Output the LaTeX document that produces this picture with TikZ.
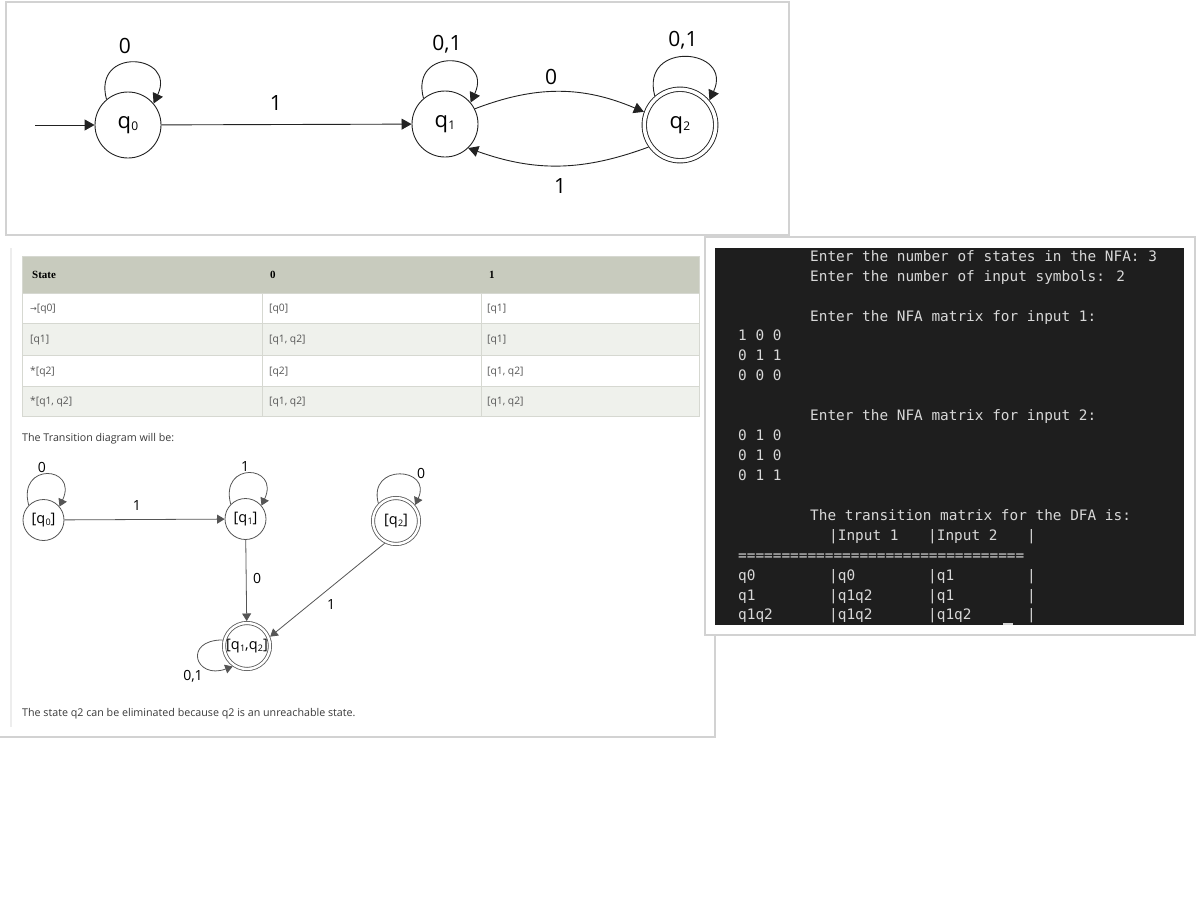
\documentclass[tikz,border=0pt]{standalone}
\usepackage{fontspec}
\setmainfont{Open Sans}
\newfontfamily\termfont{DejaVu Sans Mono}
\newfontfamily\hdrfont{Liberation Serif}
\newfontfamily\symfont{DejaVu Sans}
\usetikzlibrary{arrows.meta}
\definecolor{edgebig}{HTML}{222222}
\definecolor{edgesm}{HTML}{555555}
\definecolor{panelline}{HTML}{D2D2D2}
\definecolor{hdrgray}{HTML}{C8CBBE}
\definecolor{rowgray}{HTML}{EFF1EC}
\definecolor{cellline}{HTML}{D6D8D1}
\definecolor{celltext}{HTML}{555555}
\definecolor{bodytext}{HTML}{3A3A3A}
\definecolor{termbg}{HTML}{1E1E1E}
\definecolor{termtext}{HTML}{D8D8D8}
\newcommand{\qs}[2]{q\kern0.3bp\raisebox{-0.12em}{\fontsize{#1}{#1}\selectfont #2}}
\begin{document}
\begin{tikzpicture}[x=1bp,y=1bp,
  bigstate/.style={circle, draw=edgebig, line width=0.9bp, minimum size=66bp, inner sep=0pt, font=\fontsize{22bp}{22bp}\selectfont},
  bigacc/.style={bigstate, double, double distance=3.5bp, minimum size=71.5bp, outer sep=2.7bp},
  bigedge/.style={draw=edgebig, line width=0.9bp, -{Triangle[length=10bp,width=11bp]}},
  biglabel/.style={font=\fontsize{21bp}{21bp}\selectfont, inner sep=0pt},
  smallstate/.style={circle, draw=edgesm, line width=0.8bp, minimum size=41bp, inner sep=0pt, font=\fontsize{14.5bp}{14.5bp}\selectfont},
  smallacc/.style={smallstate, double, double distance=2.4bp, minimum size=46bp, outer sep=2bp},
  smedge/.style={draw=edgesm, line width=0.8bp, -{Triangle[length=7.5bp,width=9bp]}},
  smlabel/.style={font=\fontsize{14bp}{14bp}\selectfont, inner sep=0pt},
  panel/.style={draw=panelline, line width=1.5bp},
  cell/.style={anchor=base west, inner sep=0pt, text=celltext, font=\fontsize{10.3bp}{10.3bp}\selectfont},
  bodyline/.style={anchor=base west, inner sep=0pt, text=bodytext, font=\fontsize{10.7bp}{10.7bp}\selectfont},
  term/.style={anchor=base west, inner sep=0pt, text=termtext, font=\termfont\fontsize{14.4bp}{14.4bp}\selectfont}
]
\useasboundingbox[fill=white] (0,0) rectangle (1200,-900);

% ---------- middle panel ----------
\draw[panel] (715,-237) -- (715,-737) -- (0,-737);
\draw[draw=black!7, line width=1.5bp] (11,-248) -- (11,-727);

% ---------- top panel ----------
\draw[panel, fill=white] (6,-2) rectangle (789,-235);

\node[bigstate] (q0) at (128,-125) {\qs{12bp}{0}};
\node[bigstate] (q1) at (445,-124) {\qs{12bp}{1}};
\node[bigacc] (q2) at (680,-125) {\qs{12bp}{2}};
\coordinate (st) at (35,-125);
\draw[bigedge] (st) -- (q0);
\draw[bigedge] (q0) -- (q1);
\node[biglabel] (lq0q1) at (276,-103) {1};
\draw[bigedge] (q0.130) .. controls +(105:55) and +(65:55) .. (q0.40);
\node[biglabel] (lq0) at (125,-46) {0};
\draw[bigedge] (q1.130) .. controls +(105:55) and +(65:55) .. (q1.40);
\node[biglabel] (lq1) at (447,-44) {0,1};
\draw[bigedge] (q2.131) .. controls +(105:58) and +(65:58) .. (q2.40);
\node[biglabel] (lq2) at (683,-40) {0,1};
\draw[bigedge] (q1.27) to[bend left=22] (q2.160);
\node[biglabel] (lq1q2) at (551,-77) {0};
\draw[bigedge] (q2.215) to[bend left=20] (q1.-46);
\node[biglabel] (lq2q1) at (560,-186) {1};

% ---------- table ----------
\draw[cellline, fill=hdrgray] (22,-256) rectangle (699,-293);
\draw[cellline, fill=white] (22,-293) rectangle (699,-323);
\draw[cellline, fill=rowgray] (22,-323) rectangle (699,-355);
\draw[cellline, fill=white] (22,-355) rectangle (699,-386);
\draw[cellline, fill=rowgray] (22,-386) rectangle (699,-416);
\draw[cellline] (262,-293) -- (262,-416);
\draw[cellline] (481,-293) -- (481,-416);

\node[anchor=base west, inner sep=0pt, font=\hdrfont\bfseries\fontsize{11bp}{11bp}\selectfont] (h1) at (32,-278) {State};
\node[anchor=base west, inner sep=0pt, font=\hdrfont\bfseries\fontsize{11bp}{11bp}\selectfont] (h2) at (270,-278) {0};
\node[anchor=base west, inner sep=0pt, font=\hdrfont\bfseries\fontsize{11bp}{11bp}\selectfont] (h3) at (489,-278) {1};

\node[cell] (c11) at (30,-311.6) {{\symfont\fontsize{8bp}{8bp}\selectfont →}[q0]};
\node[cell] (c12) at (269,-311.6) {[q0]};
\node[cell] (c13) at (487,-311.6) {[q1]};
\node[cell] (c21) at (30,-342.6) {[q1]};
\node[cell] (c22) at (269,-342.6) {[q1, q2]};
\node[cell] (c23) at (487,-342.6) {[q1]};
\node[cell] (c31) at (30,-374) {*[q2]};
\node[cell] (c32) at (269,-374) {[q2]};
\node[cell] (c33) at (487,-374) {[q1, q2]};
\node[cell] (c41) at (30,-404.6) {*[q1, q2]};
\node[cell] (c42) at (269,-404.6) {[q1, q2]};
\node[cell] (c43) at (487,-404.6) {[q1, q2]};

\node[bodyline] (txt1) at (22,-441.5) {The Transition diagram will be:};
\node[bodyline] (txt2) at (22,-716.5) {The state q2 can be eliminated because q2 is an unreachable state.};

% ---------- DFA diagram ----------
\node[smallstate] (d0) at (43.5,-520) {[\qs{9bp}{0}]};
\node[smallstate] (d1) at (245.5,-519) {[\qs{9bp}{1}]};
\node[smallacc] (d2) at (396,-521) {[\qs{9bp}{2}]};
\node[smallacc] (d12) at (247,-646) {[\qs{9bp}{1},\qs{9bp}{2}]};

\draw[smedge] (d0) -- (d1);
\node[smlabel] (ld0d1) at (137,-505) {1};
\draw[smedge] (d1) -- (d12);
\node[smlabel] (ld1d12) at (257,-578) {0};
\draw[smedge] (d2.243) -- (d12.22);
\node[smlabel] (ld2d12) at (331,-604) {1};
\draw[smedge] (d0.135) .. controls +(105:45) and +(65:45) .. (d0.40);
\node[smlabel] (ld0) at (42,-467) {0};
\draw[smedge] (d1.135) .. controls +(105:45) and +(65:45) .. (d1.40);
\node[smlabel] (ld1) at (245,-466) {1};
\draw[smedge] (d2.135) .. controls +(105:42) and +(65:42) .. (d2.40);
\node[smlabel] (ld2) at (421,-473) {0};
\draw[smedge] (d12.166) .. controls +(180:40) and +(200:40) .. (d12.235);
\node[smlabel] (ld12) at (193,-676) {0,1};

% ---------- terminal panel ----------
\draw[panel, fill=white] (705,-237) rectangle (1195,-635);
\fill[termbg] (715,-248) rectangle (1184,-625);

\node[term] (t1) at (810,-261) {Enter the number of states in the NFA: 3};
\node[term] (t2) at (810,-281) {Enter the number of input symbols: 2};
\node[term] (t3) at (810,-321) {Enter the NFA matrix for input 1:};
\node[term] (t4) at (738,-340) {1 0 0};
\node[term] (t5) at (738,-360) {0 1 1};
\node[term] (t6) at (738,-380) {0 0 0};
\node[term] (t7) at (810,-420) {Enter the NFA matrix for input 2:};
\node[term] (t8) at (738,-440) {0 1 0};
\node[term] (t9) at (738,-460) {0 1 0};
\node[term] (t10) at (738,-480) {0 1 1};
\node[term] (t11) at (810,-520) {The transition matrix for the DFA is:};
\node[term] (t12) at (829,-540) {|Input 1};
\node[term] (t13) at (928,-540) {|Input 2};
\node[term] (t14) at (1027,-540) {|};
\node[term] (t15) at (738,-560) {=================================};
\node[term] (r1a) at (738,-580) {q0};
\node[term] (r1b) at (829,-580) {|q0};
\node[term] (r1c) at (928,-580) {|q1};
\node[term] (r1d) at (1027,-580) {|};
\node[term] (r2a) at (738,-600) {q1};
\node[term] (r2b) at (829,-600) {|q1q2};
\node[term] (r2c) at (928,-600) {|q1};
\node[term] (r2d) at (1027,-600) {|};
\node[term] (r3a) at (738,-619) {q1q2};
\node[term] (r3b) at (829,-619) {|q1q2};
\node[term] (r3c) at (928,-619) {|q1q2};
\node[term] (r3d) at (1027,-619) {|};
\fill[termtext] (1003,-623) rectangle (1013,-625);
\end{tikzpicture}
\end{document}
